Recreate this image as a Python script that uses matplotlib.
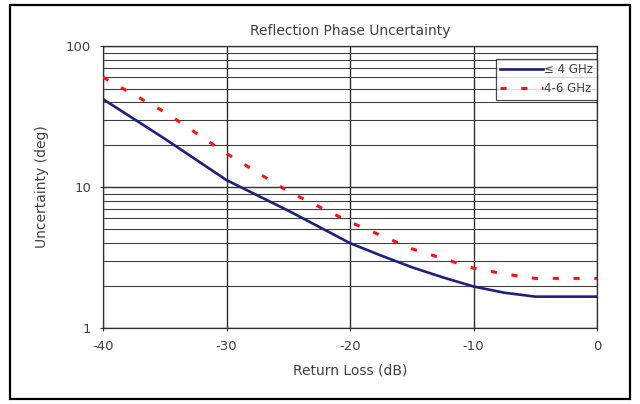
import matplotlib
matplotlib.use('Agg')
import matplotlib.pyplot as plt
from matplotlib.patches import Rectangle
from matplotlib.ticker import FixedLocator, NullFormatter

plt.rcParams['axes.unicode_minus'] = False

# Return loss (dB) and phase uncertainty (deg)
rl_low = [-40, -35, -30, -25, -20, -17.5, -15, -12.5, -10, -7.5, -5, 0]
unc_low = [42, 22, 11.2, 6.8, 4.0, 3.27, 2.7, 2.29, 1.97, 1.78, 1.67, 1.67]
rl_high = [-40, -35, -30, -25, -20, -15, -10, -7.5, -5, 0]
unc_high = [60, 34, 17.3, 9.3, 5.65, 3.65, 2.66, 2.42, 2.25, 2.25]

x_ticks = [-40, -30, -20, -10, 0]
y_ticks = [1, 10, 100]
y_tick_labels = ['1', '10', '100']

TEXT = '#404040'

fig = plt.figure(figsize=(6.4, 4.04), dpi=100)
ax = fig.add_axes([0.161, 0.188, 0.772, 0.698])

ax.plot(rl_low, unc_low, color='#1f1f80', lw=1.9, label='≤ 4 GHz', zorder=3)
ax.plot(rl_high, unc_high, color='#ff1010', lw=2.2, linestyle=(0, (2, 4.8)),
        label='4-6 GHz', zorder=3)

ax.set_yscale('log')
ax.set_xlim(-40, 0)
ax.set_ylim(1, 100)
ax.set_xticks(x_ticks)
ax.set_yticks(y_ticks)
ax.set_yticklabels(y_tick_labels)
minor = [m * d for d in (1, 10) for m in range(2, 10)]
ax.yaxis.set_minor_locator(FixedLocator(minor))
ax.yaxis.set_minor_formatter(NullFormatter())

ax.grid(True, which='major', color='#303030', lw=1.0)
ax.grid(True, which='minor', axis='y', color='#404040', lw=0.8)
for s in ax.spines.values():
    s.set_color('#303030')
    s.set_linewidth(0.9)

ax.tick_params(axis='both', which='major', direction='inout', length=5,
               colors='#303030', labelcolor=TEXT, labelsize=9.5, pad=6)
ax.tick_params(axis='y', which='minor', length=0)

ax.set_title('Reflection Phase Uncertainty', fontsize=10, color=TEXT, pad=8)
ax.set_xlabel('Return Loss (dB)', fontsize=10, color=TEXT, labelpad=8)
ax.set_ylabel('Uncertainty (deg)', fontsize=10, color=TEXT, labelpad=12)

leg = ax.legend(loc='upper right', bbox_to_anchor=(1.0, 0.955), fontsize=8.5,
                frameon=True, fancybox=False, edgecolor='#202020',
                handlelength=3.6, borderpad=0.35, labelspacing=0.55,
                handletextpad=0.1, borderaxespad=0.0)
leg.get_frame().set_linewidth(0.9)
for t in leg.get_texts():
    t.set_color(TEXT)

# outer frame around the whole chart
fig.patches.append(Rectangle((10 / 640, 5 / 404), 620 / 640, 394 / 404,
                             transform=fig.transFigure, fill=False,
                             edgecolor='black', lw=1.6))

fig.savefig('out.png', dpi=100)
